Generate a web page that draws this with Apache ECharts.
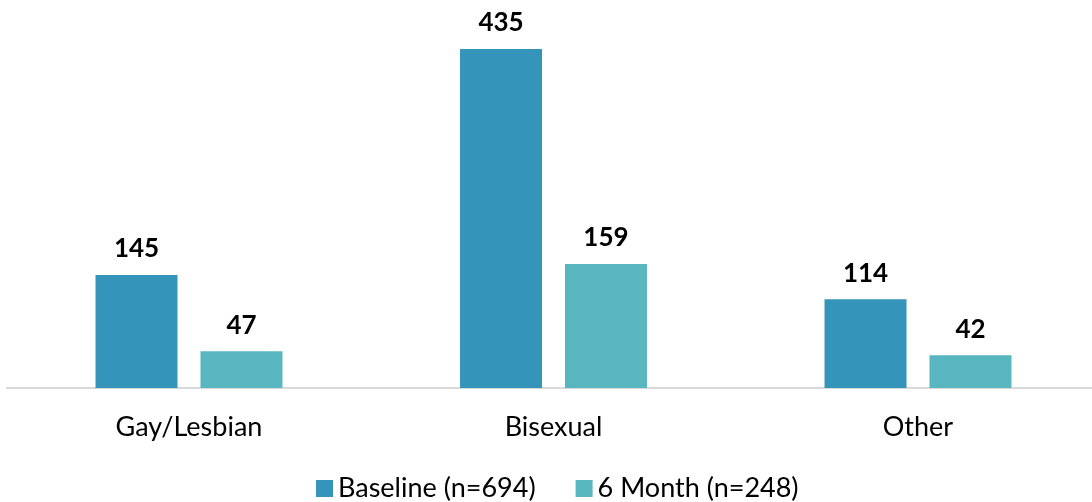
<!DOCTYPE html>
<html>
<head>
<meta charset="utf-8">
<style>
  html, body { margin: 0; padding: 0; background: #ffffff; width: 1092px; height: 502px; overflow: hidden; }
  /* the axis runs a few pixels past the right edge, so the drawing surface is slightly wider than the page */
  #chart { width: 1110px; height: 502px; }
</style>
<script src="https://cdn.jsdelivr.net/npm/echarts@6/dist/echarts.min.js"></script>
</head>
<body>
<div id="chart"></div>
<script>
// Sexual orientation counts at baseline and 6-month follow-up
const categories = ['Gay/Lesbian', 'Bisexual', 'Other'];
const baselineValues = [145, 435, 114];
const sixMonthValues = [47, 159, 42];
const seriesNames = ['Baseline (n=694)', '6 Month (n=248)'];

const FONT = 'Lato, "Open Sans", sans-serif';

const chart = echarts.init(document.getElementById('chart'), null, { renderer: 'canvas' });

const valueLabel = {
  show: true,
  position: 'top',
  distance: 13,
  color: '#000000',
  fontFamily: FONT,
  fontWeight: 'bold',
  fontSize: 26
};

chart.setOption({
  animation: false,
  backgroundColor: '#ffffff',
  grid: { left: 6.75, width: 1093.5, top: 37.3, bottom: 114, containLabel: false },
  legend: {
    top: 470,
    left: 311,
    itemWidth: 17,
    itemHeight: 17,
    itemGap: 40,
    icon: 'rect',
    textStyle: { fontFamily: FONT, fontSize: 27, color: '#000000' },
    data: seriesNames
  },
  xAxis: {
    type: 'category',
    data: categories,
    axisLine: { lineStyle: { color: '#d9d9d9', width: 2 } },
    axisTick: { show: false },
    axisLabel: { fontFamily: FONT, fontSize: 27, color: '#000000', margin: 26 }
  },
  yAxis: {
    type: 'value',
    min: 0,
    max: 450,
    show: false,
    splitLine: { show: false }
  },
  series: [
    {
      name: seriesNames[0],
      type: 'bar',
      data: baselineValues,
      barWidth: 82,
      barGap: '28%',
      itemStyle: { color: '#3494ba' },
      label: valueLabel
    },
    {
      name: seriesNames[1],
      type: 'bar',
      data: sixMonthValues,
      barWidth: 82,
      itemStyle: { color: '#58b6c0' },
      label: valueLabel
    }
  ]
});
</script>
</body>
</html>
